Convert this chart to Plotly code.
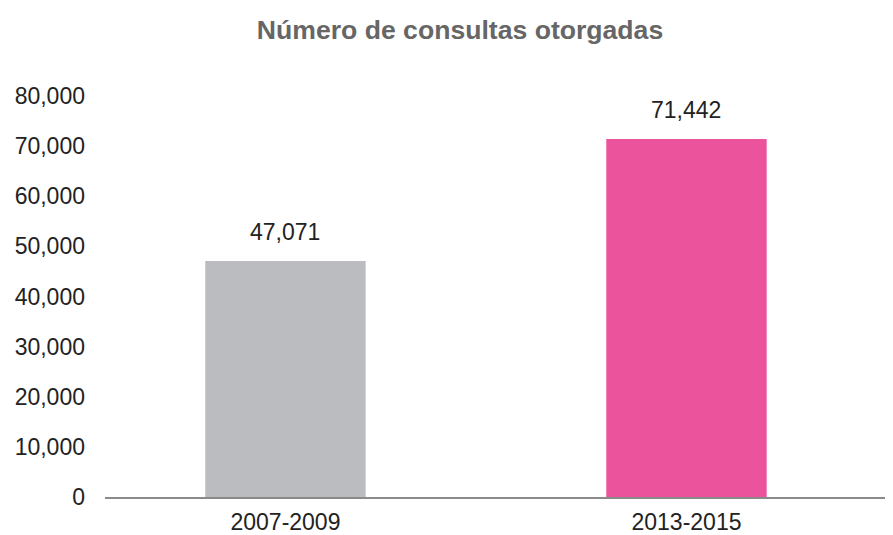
import plotly.graph_objects as go

periods = ["2007-2009", "2013-2015"]
consultas = [47071, 71442]
bar_colors = ["#BBBCC0", "#EB539D"]
y_ticks = [0, 10000, 20000, 30000, 40000, 50000, 60000, 70000, 80000]

FONT = "Liberation Sans, Arial, sans-serif"
# the page body adds an 8px margin, so the figure is a bit smaller than the window
W, H = 885, 527

fig = go.Figure()
fig.add_trace(
    go.Bar(
        x=periods,
        y=consultas,
        marker=dict(color=bar_colors, line=dict(width=0)),
        width=0.4,
        hoverinfo="x+y",
    )
)

# value labels above bars
for p, v in zip(periods, consultas):
    fig.add_annotation(
        x=p,
        y=v,
        text=f"{v:,}",
        showarrow=False,
        yanchor="bottom",
        yshift=14,
        font=dict(family=FONT, size=23, color="#222222"),
    )

fig.update_xaxes(
    range=[-0.45, 1.515],
    automargin=False,
    showline=True,
    linecolor="#8a8a8a",
    linewidth=2,
    ticks="",
    ticklabelstandoff=3,
    tickfont=dict(family=FONT, size=23, color="#222222"),
    showgrid=False,
    zeroline=False,
)
fig.update_yaxes(
    range=[0, 80000],
    automargin=False,
    tickvals=y_ticks,
    tickformat=",d",
    showgrid=False,
    zeroline=False,
    showline=False,
    ticks="",
    ticklabelstandoff=19,
    tickfont=dict(family=FONT, size=23, color="#222222"),
)
fig.update_layout(
    title=dict(
        text="<b>Número de consultas otorgadas</b>",
        x=452 / W,
        xanchor="center",
        y=1 - 22 / H,
        yanchor="middle",
        font=dict(family=FONT, size=26.6, color="#666666"),
    ),
    width=W,
    height=H,
    margin=dict(l=97, r=0, t=88, b=38),
    plot_bgcolor="white",
    paper_bgcolor="white",
    showlegend=False,
    bargap=0.6,
)

fig.write_html("out.html")
